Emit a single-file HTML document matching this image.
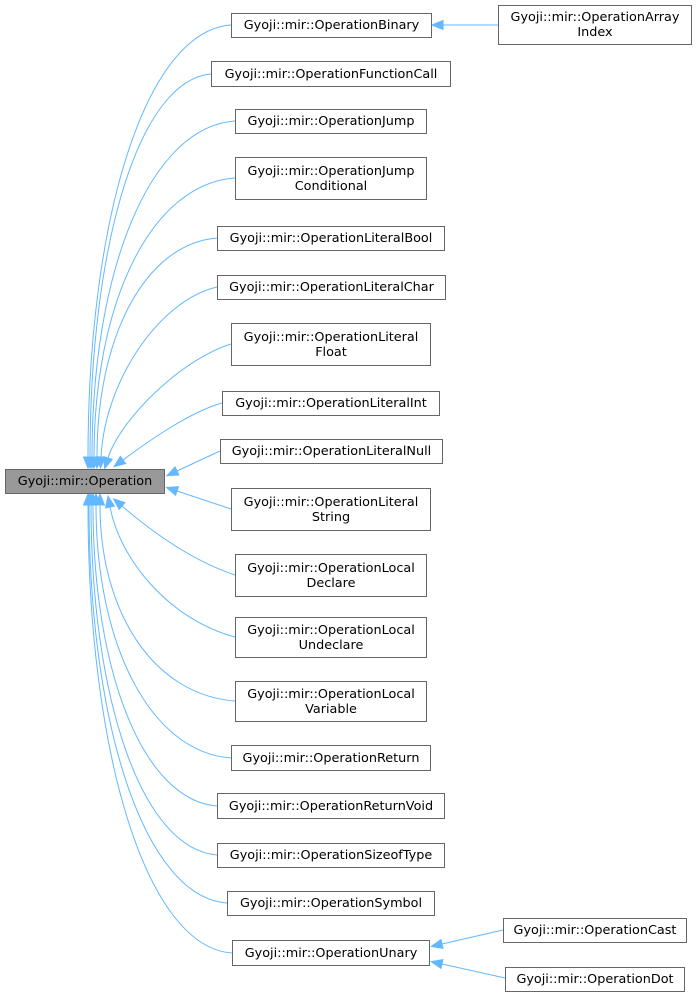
<!DOCTYPE html>
<html><head><meta charset="utf-8"><style>
html,body{margin:0;padding:0;background:#fff;}
body{width:697px;height:998px;position:relative;overflow:hidden;font-family:"DejaVu Sans","Liberation Sans",sans-serif;font-size:12.8px;}
.n{position:absolute;box-sizing:border-box;border:1px solid #666;background:#fff;display:flex;align-items:center;justify-content:center;text-align:center;line-height:15px;color:#000;white-space:nowrap;}
svg{position:absolute;left:0;top:0;}
</style></head><body>
<svg id="s" width="697" height="998"></svg>
<div class="n" style="left:5px;top:469px;width:160px;height:25px;background:#999">Gyoji::mir::Operation</div>
<div class="n" style="left:231px;top:13px;width:201px;height:25px">Gyoji::mir::OperationBinary</div>
<div class="n" style="left:498px;top:5px;width:194px;height:40px">Gyoji::mir::OperationArray<br>Index</div>
<div class="n" style="left:211px;top:61px;width:240px;height:26px">Gyoji::mir::OperationFunctionCall</div>
<div class="n" style="left:235px;top:109px;width:192px;height:25px">Gyoji::mir::OperationJump</div>
<div class="n" style="left:235px;top:157px;width:192px;height:43px">Gyoji::mir::OperationJump<br>Conditional</div>
<div class="n" style="left:217px;top:226px;width:228px;height:25px">Gyoji::mir::OperationLiteralBool</div>
<div class="n" style="left:217px;top:275px;width:229px;height:25px">Gyoji::mir::OperationLiteralChar</div>
<div class="n" style="left:231px;top:323px;width:200px;height:43px">Gyoji::mir::OperationLiteral<br>Float</div>
<div class="n" style="left:222px;top:391px;width:218px;height:25px">Gyoji::mir::OperationLiteralInt</div>
<div class="n" style="left:220px;top:439px;width:223px;height:25px">Gyoji::mir::OperationLiteralNull</div>
<div class="n" style="left:231px;top:488px;width:200px;height:43px">Gyoji::mir::OperationLiteral<br>String</div>
<div class="n" style="left:235px;top:554px;width:192px;height:43px">Gyoji::mir::OperationLocal<br>Declare</div>
<div class="n" style="left:235px;top:617px;width:192px;height:41px">Gyoji::mir::OperationLocal<br>Undeclare</div>
<div class="n" style="left:235px;top:681px;width:192px;height:41px">Gyoji::mir::OperationLocal<br>Variable</div>
<div class="n" style="left:231px;top:745px;width:200px;height:26px">Gyoji::mir::OperationReturn</div>
<div class="n" style="left:217px;top:793px;width:228px;height:26px">Gyoji::mir::OperationReturnVoid</div>
<div class="n" style="left:217px;top:843px;width:228px;height:25px">Gyoji::mir::OperationSizeofType</div>
<div class="n" style="left:227px;top:891px;width:208px;height:25px">Gyoji::mir::OperationSymbol</div>
<div class="n" style="left:232px;top:940px;width:198px;height:26px">Gyoji::mir::OperationUnary</div>
<div class="n" style="left:503px;top:918px;width:184px;height:25px">Gyoji::mir::OperationCast</div>
<div class="n" style="left:505px;top:967px;width:180px;height:25px">Gyoji::mir::OperationDot</div>
<script>
var s=document.getElementById('s'),h='';
var C='#63b8ff';
function arrow(x1,y1,x2,y2){
 var dx=x2-x1,dy=y2-y1,l=Math.hypot(dx,dy);dx/=l;dy/=l;
 var tx=x2+dx*11,ty=y2+dy*11,px=-dy*4.5,py=dx*4.5;
 h+='<polygon points="'+tx+','+ty+' '+(x2+px)+','+(y2+py)+' '+(x2-px)+','+(y2-py)+'" fill="'+C+'" stroke="'+C+'"/>';
}
function curve(xl,ym,ex,ey,k){
 k=k||0.45;
 var c1x=ex+(xl-ex)*0.4,c1y=ym+(ey>ym?6:-6),c2x=ex,c2y=ym+(ey-ym)*k;
 h+='<path d="M'+xl+','+ym+' C'+c1x+','+c1y+' '+c2x+','+c2y+' '+ex+','+ey+'" fill="none" stroke="'+C+'"/>';
 arrow(c2x,c2y,ex,ey);
}
function curve2(xl,ym,c1x,c1y,c2x,c2y,ex,ey){
 h+='<path d="M'+xl+','+ym+' C'+c1x+','+c1y+' '+c2x+','+c2y+' '+ex+','+ey+'" fill="none" stroke="'+C+'"/>';
 arrow(c2x,c2y,ex,ey);
}
var up=[[231,25,88],[211,74,90],[235,121,92],[235,178,94],[217,238,97]];
up.forEach(function(a){curve(a[0],a[1],a[2],457);});
curve2(217,287,160,300,105,380,101,457);
curve2(231,344,180,360,120,420,108,458);
curve2(222,403,190,412,150,440,123,460);
curve2(235,575,190,560,150,530,122,506);
curve2(235,637,170,620,120,560,110,507);
var dn=[[235,701,100],[231,758,96],[217,806,93],[217,855,91],[227,903,89],[232,953,88]];
dn.forEach(function(a){curve(a[0],a[1],a[2],505);});
function line(x1,y1,x2,y2){h+='<line x1="'+x1+'" y1="'+y1+'" x2="'+x2+'" y2="'+y2+'" stroke="'+C+'"/>';arrow(x1,y1,x2,y2);}
line(220,451,177,471);
line(231,509,177,491);
line(498,25,443,25);
line(503,930,442,944);
line(505,978,442,964);
s.innerHTML=h;
</script>
</body></html>
